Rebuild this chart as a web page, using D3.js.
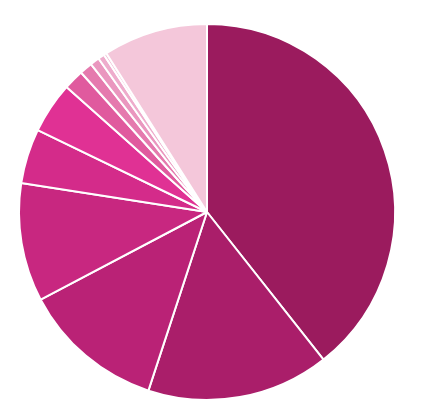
<!DOCTYPE html>
<html>
<head>
<meta charset="utf-8">
<script src="https://cdn.jsdelivr.net/npm/d3@7"></script>
<style>
  body { margin: 0; background: #fff; }
</style>
</head>
<body>
<div id="chart"></div>
<script>
// slice shares (percent), clockwise from 12 o'clock
var categories = ["A", "B", "C", "D", "E", "F", "G", "H", "I", "J", "K", "L"];
var values = [39.4, 15.7, 12.25, 10.2, 4.7, 4.4, 1.75, 1.1, 0.8, 0.55, 0.25, 9.0];
var colors = ["#9b1b5e", "#aa1e6a", "#ba2276", "#c82780", "#d42b8a", "#e03194",
              "#e05a9e", "#e57aae", "#ea97bf", "#eeaccc", "#f1bbd4", "#f4c7da"];

var width = 422, height = 417;
var cx = 207, cy = 212, radius = 188;

var svg = d3.select("#chart")
    .append("svg")
    .attr("width", width)
    .attr("height", height);

var g = svg.append("g")
    .attr("transform", "translate(" + cx + "," + cy + ")");

var pie = d3.pie()
    .sort(null)
    .value(function (d) { return d; });

var arc = d3.arc()
    .innerRadius(0)
    .outerRadius(radius);

g.selectAll("path")
    .data(pie(values))
    .enter().append("path")
    .attr("d", arc)
    .attr("fill", function (d, i) { return colors[i]; })
    .attr("stroke", "#fff")
    .attr("stroke-width", 2)
    .attr("stroke-linejoin", "round")
    .append("title")
    .text(function (d, i) { return categories[i]; });
</script>
</body>
</html>
